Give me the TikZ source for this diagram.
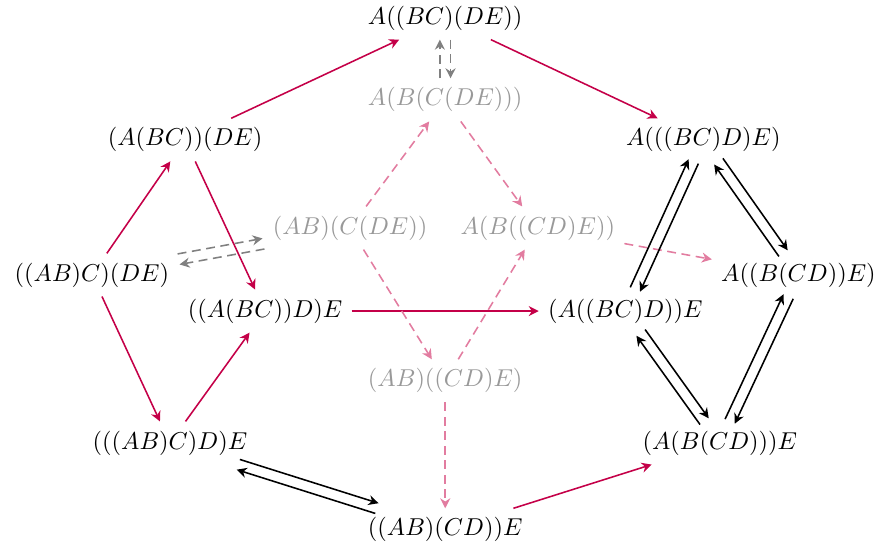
\documentclass[tikz,border=0pt,11pt]{standalone}
\usepackage{tikz}
\usetikzlibrary{arrows.meta,calc}
\definecolor{AssocRed}{RGB}{196,0,72}
\definecolor{AssocPink}{RGB}{226,124,160}

\begin{document}
\begin{tikzpicture}[
        wd/.style={inner sep=4pt},
        gw/.style={inner sep=4pt,text=black!40},
        rd/.style={draw=AssocRed,line width=0.7pt,-{Stealth[length=4.5pt,width=4.5pt]}},
        pk/.style={draw=AssocPink,line width=0.7pt,dash pattern=on 4pt off 2.5pt,
                   -{Stealth[length=4.5pt,width=4.5pt]}},
        bk/.style={draw=black,line width=0.7pt,-{Stealth[length=4.5pt,width=4.5pt]}},
        gy/.style={draw=black!50,line width=0.7pt,dash pattern=on 4pt off 2.5pt,
                   -{Stealth[length=4.5pt,width=4.5pt]}},
        sh/.style 2 args={transform canvas={shift={($(#1)!2.4pt!90:(#2)-(#1)$)}}}
      ]
        \useasboundingbox (0,0) rectangle (13.86,8.705);
        \node[wd] (top) at (7.02,8.42) {$A((BC)(DE))$};
        \node[gw] (gtop) at (7.02,7.13) {$A(B(C(DE)))$};
        \node[wd] (l1) at (2.92,6.50) {$(A(BC))(DE)$};
        \node[wd] (r1) at (11.09,6.50) {$A(((BC)D)E)$};
        \node[gw] (ml) at (5.52,5.11) {$(AB)(C(DE))$};
        \node[gw] (mr) at (8.48,5.11) {$A(B((CD)E))$};
        \node[wd] (l2) at (1.45,4.37) {$((AB)C)(DE)$};
        \node[wd] (r2) at (12.59,4.37) {$A((B(CD))E)$};
        \node[wd] (il) at (4.18,3.80) {$((A(BC))D)E$};
        \node[wd] (ir) at (9.86,3.80) {$(A((BC)D))E$};
        \node[gw] (mb) at (7.02,2.70) {$(AB)((CD)E)$};
        \node[wd] (l3) at (2.68,1.72) {$(((AB)C)D)E$};
        \node[wd] (r3) at (11.35,1.72) {$(A(B(CD)))E$};
        \node[wd] (bot) at (7.02,0.35) {$((AB)(CD))E$};
        % solid red
        \draw[rd] (l1)--(top); \draw[rd] (top)--(r1);
        \draw[rd] (l2)--(l1); \draw[rd] (l1)--(il);
        \draw[rd] (l2)--(l3); \draw[rd] (l3)--(il);
        \draw[rd] (il)--(ir); \draw[rd] (bot)--(r3);
        % dashed pink
        \draw[pk] (ml)--(gtop); \draw[pk] (gtop)--(mr);
        \draw[pk] (ml)--(mb); \draw[pk] (mb)--(mr);
        \draw[pk] (mr)--(r2); \draw[pk] (mb)--(bot);
        % pairs
        \draw[bk,sh={l3}{bot}] (l3)--(bot); \draw[bk,sh={bot}{l3}] (bot)--(l3);
        \draw[bk,sh={ir}{r1}] (ir)--(r1); \draw[bk,sh={r1}{ir}] (r1)--(ir);
        \draw[bk,sh={r1}{r2}] (r1)--(r2); \draw[bk,sh={r2}{r1}] (r2)--(r1);
        \draw[bk,sh={ir}{r3}] (ir)--(r3); \draw[bk,sh={r3}{ir}] (r3)--(ir);
        \draw[bk,sh={r3}{r2}] (r3)--(r2); \draw[bk,sh={r2}{r3}] (r2)--(r3);
        \draw[gy,sh={l2}{ml}] (l2)--(ml); \draw[gy,sh={ml}{l2}] (ml)--(l2);
        \draw[gy,sh={top}{gtop}] (top)--(gtop); \draw[gy,sh={gtop}{top}] (gtop)--(top);
      \end{tikzpicture}
\end{document}
